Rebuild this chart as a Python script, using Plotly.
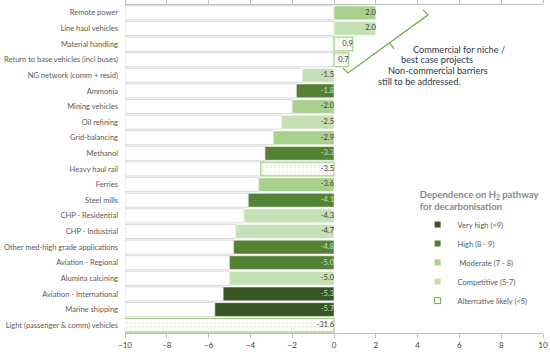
import plotly.graph_objects as go

categories = [
    "Remote power", "Line haul vehicles", "Material handling",
    "Return to base vehicles (incl buses)", "NG network (comm + resid)",
    "Ammonia", "Mining vehicles", "Oil refining", "Grid-balancing",
    "Methanol", "Heavy haul rail", "Ferries", "Steel mills",
    "CHP - Residential", "CHP - Industrial",
    "Other med-high grade applications", "Aviation - Regional",
    "Alumina calcining", "Aviation - International", "Marine shipping",
    "Light (passenger & comm) vehicles",
]
values = [2.0, 2.0, 0.9, 0.7, -1.5, -1.8, -2.0, -2.5, -2.9, -3.3, -3.5,
          -3.6, -4.1, -4.3, -4.7, -4.8, -5.0, -5.0, -5.3, -5.7, -31.6]
dependence = ["mod", "comp", "alt", "alt", "comp", "high", "mod", "comp",
              "mod", "high", "alt", "mod", "high", "comp", "comp", "high",
              "high", "comp", "vhigh", "vhigh", "alt"]

groups = ["vhigh", "high", "mod", "comp", "alt"]
group_names = {"vhigh": "Very high (>9)", "high": "High (8 - 9)",
               "mod": " Moderate (7 - 8)", "comp": "Competitive (5-7)",
               "alt": "Alternative likely (<5)"}
group_colors = {"vhigh": "#375623", "high": "#548235", "mod": "#a9d18e",
                "comp": "#c5e0b4", "alt": "#ffffff"}
text_colors = {"vhigh": "#c5e0b4", "high": "#c5e0b4", "mod": "#404040",
               "comp": "#404040", "alt": "#404040"}

XMIN, XMAX = -10, 10
FONT = "Lato, Open Sans, sans-serif"

fig = go.Figure()

# white background rows from the left edge up to the bar start
fig.add_trace(go.Bar(
    y=categories, x=[min(v, 0) - XMIN for v in values], base=XMIN,
    orientation="h", width=0.9,
    marker=dict(color="white", line=dict(color="#d9d9d9", width=1)),
    showlegend=False, hoverinfo="skip",
))

for g in groups:
    ys = [c for c, d in zip(categories, dependence) if d == g]
    xs = [v for v, d in zip(values, dependence) if d == g]
    if g == "alt":
        marker = dict(color="white",
                      line=dict(color="#a9d18e", width=1.2),
                      pattern=dict(shape=".", fgcolor="#d5eac7", bgcolor="white",
                                   size=4, solidity=0.45, fillmode="overlay"))
    else:
        marker = dict(color=group_colors[g], line=dict(color="white", width=0.5))
    fig.add_trace(go.Bar(
        y=ys, x=xs, base=0, orientation="h", width=0.88,
        marker=marker, showlegend=False, hoverinfo="skip",
    ))
    # legend entry with a small square symbol
    if g == "alt":
        lm = dict(symbol="square-open", size=6, color="#70ad47",
                  line=dict(width=1))
    else:
        lm = dict(symbol="square", size=6, color=group_colors[g])
    fig.add_trace(go.Scatter(
        x=[None], y=[None], mode="markers", marker=lm,
        name=group_names[g], hoverinfo="skip",
    ))

# value labels
fig.add_trace(go.Scatter(
    y=categories, x=[max(v, 0) for v in values], mode="text",
    text=[f"{v:.1f}" for v in values], textposition="middle left",
    textfont=dict(size=7.5, family=FONT,
                  color=[text_colors[d] for d in dependence]),
    showlegend=False, hoverinfo="skip",
))

# bracket
fig.add_shape(type="path", xref="x", yref="paper",
              path="M 0.43,0.808 L 0.67,0.793 L 4.5,0.97 L 4.26,0.985",
              line=dict(color="#70ad47", width=1.2))
fig.add_shape(type="line", xref="x", yref="paper",
              x0=2.68, y0=0.884, x1=2.87, y1=0.866,
              line=dict(color="#70ad47", width=1.2))

notes = [("Commercial for niche /", 5.98, 0.887),
         ("best case projects", 4.93, 0.857),
         ("Non-commercial barriers", 4.98, 0.823),
         ("still to be addressed.", 4.11, 0.790)]
for t, x, y in notes:
    fig.add_annotation(text=t, x=x, y=y, xref="x", yref="paper",
                       showarrow=False,
                       font=dict(size=9.2, family=FONT, color="#2b3a4a"))

n = len(categories)
fig.update_layout(
    width=550, height=352,
    margin=dict(l=125, r=7, t=5, b=19, autoexpand=False),
    paper_bgcolor="white", plot_bgcolor="white",
    barmode="overlay",
    font=dict(family=FONT),
    legend=dict(
        x=0.70, y=0.45, xanchor="left", yanchor="top",
        title=dict(text="<b>Dependence on H<sub>2</sub> pathway<br>for decarbonisation</b>",
                   side="top center",
                   font=dict(size=9.5, color="#7f8c8d", family=FONT)),
        font=dict(size=7.5, color="#595959", family=FONT),
        tracegroupgap=0, itemwidth=30, bgcolor="rgba(0,0,0,0)",
    ),
    xaxis=dict(range=[XMIN, XMAX], dtick=2, tick0=-10, showgrid=False,
               zeroline=False, showline=True, linecolor="#bfbfbf",
               mirror="ticks", ticks="outside", ticklen=4, tickcolor="#bfbfbf",
               tickfont=dict(size=8, color="#404040", family=FONT)),
    yaxis=dict(range=[n - 0.5, -0.5], showgrid=False, zeroline=False,
               showline=False, ticks="", ticklabelstandoff=6,
               tickfont=dict(size=7.5, color="#595959", family=FONT)),
)

fig.write_html("out.html", config={"displayModeBar": False},
               post_script="document.body.style.margin='0';document.body.style.overflow='hidden';")
